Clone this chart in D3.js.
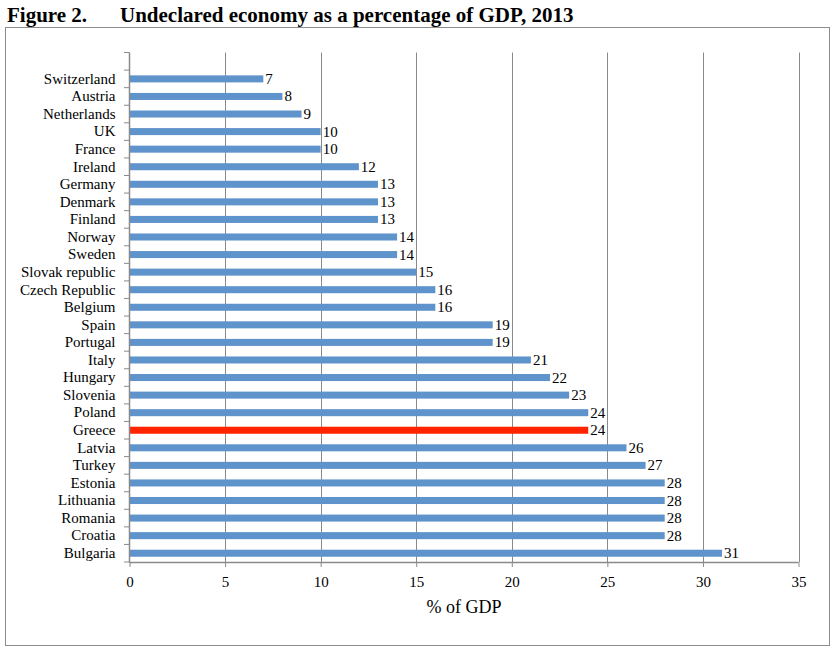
<!DOCTYPE html>
<html>
<head>
<meta charset="utf-8">
<script src="https://cdn.jsdelivr.net/npm/d3@7"></script>
<style>
  body { margin: 0; background: #fff; }
  svg { display: block; }
</style>
</head>
<body>
<svg id="chart" width="834" height="652"></svg>
<script>
const categories = ["Switzerland","Austria","Netherlands","UK","France","Ireland","Germany","Denmark","Finland","Norway","Sweden","Slovak republic","Czech Republic","Belgium","Spain","Portugal","Italy","Hungary","Slovenia","Poland","Greece","Latvia","Turkey","Estonia","Lithuania","Romania","Croatia","Bulgaria"];
const values = [7,8,9,10,10,12,13,13,13,14,14,15,16,16,19,19,21,22,23,24,24,26,27,28,28,28,28,31];
const highlight = ["Greece"];
const xTicks = [0,5,10,15,20,25,30,35];
const titleNumber = "Figure 2.";
const titleText = "Undeclared economy as a percentage of GDP, 2013";
const xAxisTitle = "% of GDP";

(function () {
const FONT = "'Liberation Serif'";
const svg = d3.select("#chart");
const gridColor = "#8a8a8a";
const barColor = "#5f93cb";
const hiColor = "#ff2300";

function styleText(sel, size) {
  sel.attr("font-family", null).attr("font-size", null)
     .style("font-family", FONT).style("font-size", size + "px").style("fill", "#000");
}

// Title
styleText(svg.append("text").attr("x", 7).attr("y", 22).style("font-weight", "bold").text(titleNumber), 21);
styleText(svg.append("text").attr("x", 120).attr("y", 22).style("font-weight", "bold").text(titleText), 21);

// Outer frame
svg.append("rect").attr("x", 5.5).attr("y", 27.5).attr("width", 824).attr("height", 618)
  .attr("fill", "none").attr("stroke", "#8c8c8c").attr("stroke-width", 1);

const x = d3.scaleLinear().domain([0, 35]).range([129.5, 798.5]);
const y = d3.scaleBand().domain(categories).range([70.1, 562]).paddingInner(0.6).paddingOuter(0.3);
const plotTop = y.range()[0] - y.step();
const plotBottom = y.range()[1];

// Vertical gridlines
svg.append("g").selectAll("line").data(xTicks.filter(d => d > 0)).join("line")
  .attr("x1", d => Math.round(x(d)) + 0.5).attr("x2", d => Math.round(x(d)) + 0.5)
  .attr("y1", plotTop).attr("y2", plotBottom)
  .attr("stroke", gridColor).attr("stroke-width", 1);

// Bars
svg.append("g").selectAll("rect").data(categories).join("rect")
  .attr("x", x(0))
  .attr("y", d => y(d))
  .attr("width", (d, i) => x(values[i]) - x(0))
  .attr("height", y.bandwidth())
  .attr("fill", d => highlight.includes(d) ? hiColor : barColor);

// Value labels
const vl = svg.append("g").selectAll("text").data(categories).join("text")
  .attr("x", (d, i) => x(values[i]) + 2)
  .attr("y", d => y(d) + y.bandwidth() / 2 + 5)
  .text((d, i) => values[i]);
styleText(vl, 15);

// Left axis
const left = svg.append("g");
left.append("line").attr("x1", 129.5).attr("x2", 129.5).attr("y1", plotTop).attr("y2", plotBottom + 0.5)
  .attr("stroke", gridColor).attr("stroke-width", 1.5);
const boundaries = d3.range(categories.length + 2).map(k => plotTop + k * y.step());
left.selectAll("line.tk").data(boundaries).join("line").attr("class", "tk")
  .attr("x1", 124).attr("x2", 129.5).attr("y1", d => d).attr("y2", d => d)
  .attr("stroke", gridColor).attr("stroke-width", 1);

const yAxis = d3.axisLeft(y).tickSize(0).tickPadding(14);
const yg = svg.append("g").attr("transform", "translate(129.5,0)").call(yAxis);
yg.attr("font-family", null).attr("font-size", null);
yg.select(".domain").remove();
styleText(yg.selectAll("text"), 15);

// Bottom axis
const xAxis = d3.axisBottom(x).tickValues(xTicks).tickSize(5).tickPadding(9);
const xg = svg.append("g").attr("transform", `translate(0,${plotBottom})`).call(xAxis);
xg.attr("font-family", null).attr("font-size", null);
xg.select(".domain").attr("stroke", gridColor).attr("stroke-width", 1.5).attr("d", `M${x(0)},0.5H${x(35)}`);
xg.selectAll(".tick line").attr("stroke", gridColor);
styleText(xg.selectAll("text"), 15);

// X axis title
const xt = svg.append("text").attr("x", (x(0) + x(35)) / 2).attr("y", 613)
  .attr("text-anchor", "middle").text(xAxisTitle);
styleText(xt, 18);
})();
</script>
</body>
</html>
